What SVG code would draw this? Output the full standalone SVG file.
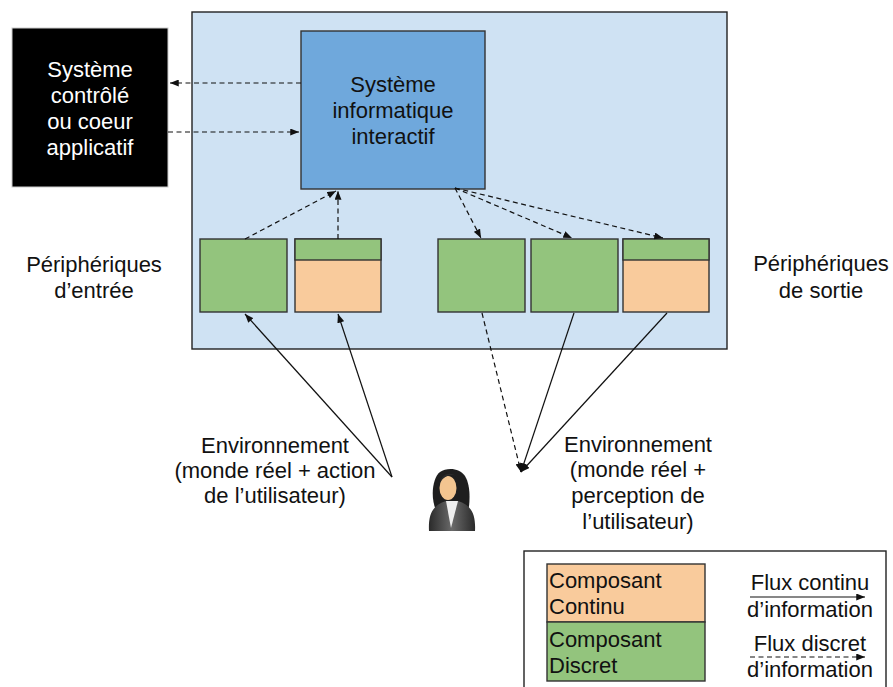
<svg xmlns="http://www.w3.org/2000/svg" width="893" height="687" viewBox="0 0 893 687">
<style>
text{font-family:"Liberation Sans",Arial,sans-serif;font-size:22px;fill:#111}
.w{fill:#fff}
.c{text-anchor:middle}
.box{stroke:#333;stroke-width:1.4}
.g{fill:#93c47d}
.o{fill:#f9cb9c}
.ln{fill:none;stroke:#111;stroke-width:1.2}
.d{stroke-dasharray:5,3.5}
</style>
<defs>
<marker id="ah" viewBox="0 0 10 8" refX="10" refY="4" markerWidth="9" markerHeight="7" markerUnits="userSpaceOnUse" orient="auto">
<path d="M0,0 L10,4 L0,8 z" fill="#111"/>
</marker>
<linearGradient id="suit" x1="0" y1="0" x2="1" y2="0">
<stop offset="0" stop-color="#2a2a2a"/><stop offset="0.5" stop-color="#6a6a6a"/><stop offset="1" stop-color="#2a2a2a"/>
</linearGradient>
</defs>
<rect width="893" height="687" fill="#fff"/>

<g id="systeme-interactif-zone">
<rect x="192" y="12" width="535" height="337" fill="#cfe2f3" stroke="#222" stroke-width="1.4"/>
</g>

<g id="systeme-controle">
<rect x="12" y="28" width="156" height="159" fill="#000" stroke="#ccc" stroke-width="1"/>
<text class="c w" x="90" y="77">Système</text>
<text class="c w" x="90" y="103">contrôlé</text>
<text class="c w" x="90" y="129">ou coeur</text>
<text class="c w" x="90" y="155">applicatif</text>
</g>

<g id="systeme-informatique">
<rect class="box" x="301" y="31" width="184" height="158" fill="#6fa8dc"/>
<text class="c" x="393" y="92">Système</text>
<text class="c" x="393" y="118">informatique</text>
<text class="c" x="393" y="144">interactif</text>
</g>

<g id="entree-1">
<rect class="box g" x="200" y="239" width="87" height="73"/>
</g>
<g id="entree-2">
<rect class="box o" x="295" y="239" width="86" height="73"/>
<rect class="box g" x="295" y="239" width="86" height="21"/>
</g>
<g id="sortie-1">
<rect class="box g" x="438" y="239" width="87" height="73"/>
</g>
<g id="sortie-2">
<rect class="box g" x="531" y="239" width="87" height="73"/>
</g>
<g id="sortie-3">
<rect class="box o" x="623" y="239" width="86" height="73"/>
<rect class="box g" x="623" y="239" width="86" height="21"/>
</g>

<g id="label-entree">
<text class="c" x="94" y="272">Périphériques</text>
<text class="c" x="94" y="298">d’entrée</text>
</g>
<g id="label-sortie">
<text class="c" x="821" y="271">Périphériques</text>
<text class="c" x="821" y="298">de sortie</text>
</g>

<g id="env-action">
<text class="c" x="275" y="453">Environnement</text>
<text class="c" x="275" y="478">(monde réel + action</text>
<text class="c" x="275" y="503">de l’utilisateur)</text>
</g>
<g id="env-perception">
<text class="c" x="638" y="452">Environnement</text>
<text class="c" x="638" y="477">(monde réel +</text>
<text class="c" x="638" y="503">perception de</text>
<text class="c" x="638" y="529">l’utilisateur)</text>
</g>

<g id="utilisateur">
<path d="M437,512 C430,500 432,478 440,472 C447,467 460,468 465,476 C471,486 470,503 468,512 Z" fill="#1e1e1e"/>
<ellipse cx="448" cy="488" rx="8.5" ry="12" fill="#f3c590"/>
<path d="M440,482 C441,474 452,470 458,478 C456,474 447,473 440,482 Z" fill="#2a2a2a"/>
<path d="M429,531 C428,512 434,505 446,501 L452,503 L458,501 C470,505 476,512 475,531 Z" fill="url(#suit)"/>
<path d="M446,501 L451,528 L458,501 Z" fill="#eeeeee"/>
</g>

<g id="connecteurs">
<path class="ln d" d="M301,83 L170,83" marker-end="url(#ah)"/>
<path class="ln d" d="M168,132 L299,132" marker-end="url(#ah)"/>
<path class="ln d" d="M245,239 L336,191" marker-end="url(#ah)"/>
<path class="ln d" d="M338,239 L338,191" marker-end="url(#ah)"/>
<path class="ln d" d="M455,188 L481,238" marker-end="url(#ah)"/>
<path class="ln d" d="M455,188 L572,238" marker-end="url(#ah)"/>
<path class="ln d" d="M455,188 L663,238" marker-end="url(#ah)"/>
<path class="ln" d="M392,477 L245,314" marker-end="url(#ah)"/>
<path class="ln" d="M392,477 L338,314" marker-end="url(#ah)"/>
<path class="ln d" d="M482,313 L521,472" marker-end="url(#ah)"/>
<path class="ln" d="M574,313 L521,472" marker-end="url(#ah)"/>
<path class="ln" d="M667,313 L521,472" marker-end="url(#ah)"/>
</g>

<g id="legende">
<rect x="524" y="551" width="362" height="140" fill="#fff" stroke="#222" stroke-width="1.4"/>
<rect class="box o" x="547" y="564" width="158" height="58"/>
<rect class="box g" x="547" y="622" width="158" height="59"/>
<text x="549" y="588">Composant</text>
<text x="549" y="614">Continu</text>
<text x="549" y="647">Composant</text>
<text x="549" y="673">Discret</text>
<text class="c" x="810" y="590">Flux continu</text>
<text class="c" x="810" y="617">d’information</text>
<text class="c" x="810" y="651">Flux discret</text>
<text class="c" x="810" y="677">d’information</text>
<path class="ln" d="M750,597 L865,597" marker-end="url(#ah)"/>
<path class="ln d" d="M750,657 L865,657" marker-end="url(#ah)"/>
</g>
</svg>
